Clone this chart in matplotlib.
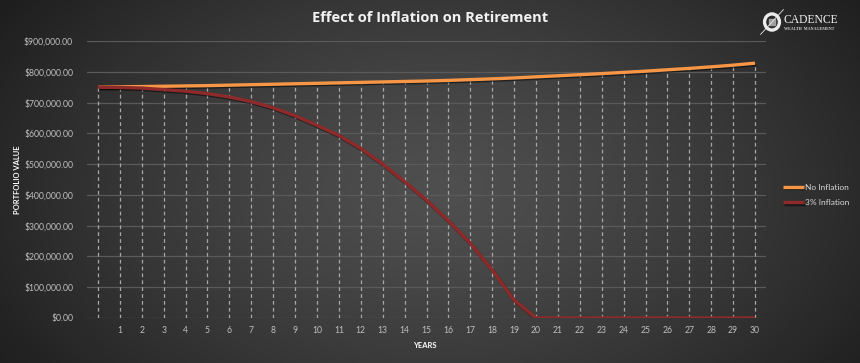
import numpy as np
import matplotlib
matplotlib.use("Agg")
import matplotlib.pyplot as plt
import matplotlib.patheffects as pe
from matplotlib.ticker import FuncFormatter

years = list(range(0, 31))
year_labels = [""] + [str(i) for i in range(1, 31)]
no_inflation = [750, 751, 752, 753, 754, 755, 756.5, 758, 759.5, 761, 762.5,
                764, 765.5, 767, 768.5, 770, 772, 774.5, 777, 780, 783.5,
                787, 790.5, 794, 798, 802, 806.5, 811, 816, 821.5, 828]
no_inflation = [v * 1000 for v in no_inflation]
inflation_3 = [750, 749, 747, 742, 737, 729, 718, 703, 683, 657, 626,
               593, 551, 500, 443, 383, 316, 243, 156, 58, 0,
               0, 0, 0, 0, 0, 0, 0, 0, 0, 0]
inflation_3 = [v * 1000 for v in inflation_3]

title = "Effect of Inflation on Retirement"
ylabel = "PORTFOLIO VALUE"
xlabel = "YEARS"
series_names = ["No Inflation", "3% Inflation"]

FONT = ["Lato", "DejaVu Sans"]
plt.rcParams['font.family'] = FONT

W, H = 860, 363
fig = plt.figure(figsize=(W / 100, H / 100), dpi=100)

# background radial gradient
bg = fig.add_axes([0, 0, 1, 1])
yy, xx = np.mgrid[0:H, 0:W]
cx, cy = 440, 190
r = np.sqrt(((xx - cx) / 520.0) ** 2 + ((yy - cy) / 330.0) ** 2)
light, dark = 0.31, 0.12
val = light - (light - dark) * np.clip(r, 0, 1) ** 1.3
img = np.dstack([val, val, val])
bg.imshow(img, aspect='auto', extent=[0, 1, 0, 1], origin='upper')
bg.set_axis_off()
bg.set_zorder(-10)

ax = fig.add_axes([87 / W, 1 - 318 / H, (766 - 87) / W, (318 - 41) / H])
ax.patch.set_alpha(0)
ax.set_xlim(-0.5, 30.5)
ax.set_ylim(0, 900000)
ax.set_yticks(np.arange(0, 900001, 100000))
ax.yaxis.set_major_formatter(FuncFormatter(lambda v, p: "${:,.2f}".format(v)))
ax.set_xticks(years)
ax.set_xticklabels(year_labels)
ax.tick_params(axis='both', length=0, colors='#bfbfbf', labelsize=6.2)
ax.tick_params(axis='y', pad=10)
ax.tick_params(axis='x', pad=6)
for s in ax.spines.values():
    s.set_visible(False)
ax.grid(axis='y', color='#5a5a5a', linewidth=0.9)
ax.set_axisbelow(True)

# drop lines
ax.vlines(years, 0, no_inflation, colors='#a8a8a8', linewidth=0.9,
          linestyles=(0, (3, 2.5)), zorder=2)

shadow = [pe.SimpleLineShadow(offset=(0.8, -1.0), shadow_color='black', alpha=0.5), pe.Normal()]
l1, = ax.plot(years, no_inflation, color='#f79646', linewidth=2.4, zorder=3,
              solid_capstyle='butt', path_effects=shadow, label=series_names[0])
l2, = ax.plot(years, inflation_3, color='#8e2a2a', linewidth=2.4, zorder=4,
              solid_capstyle='butt', path_effects=shadow, label=series_names[1])

ax.set_ylabel(ylabel, color='white', fontsize=5.5, fontweight='bold')
ax.yaxis.set_label_coords(-65.5 / (766 - 87), 0.5)
ax.set_xlabel(xlabel, color='white', fontsize=5.5, fontweight='bold')
ax.xaxis.set_label_coords(0.497, -0.085)

fig.text(430 / W, 1 - 18 / H, title, color='#f2f2f2', fontsize=10.5, fontweight='bold',
         family=['Open Sans', 'DejaVu Sans'], ha='center', va='center')

# legend
leg = fig.legend(handles=[l1, l2], labels=series_names, loc='center left',
                 bbox_to_anchor=(775 / W, 1 - 195 / H), frameon=False,
                 fontsize=6, labelcolor='#d9d9d9', handlelength=2.6,
                 handletextpad=0.05, labelspacing=1.0)

# logo
logo = fig.add_axes([760 / W, 1 - 35 / H, 24 / W, 26 / H])
logo.set_xlim(-1, 1)
logo.set_ylim(-1, 1)
logo.set_axis_off()
circ = plt.Circle((0, 0), 0.62, fill=False, edgecolor='#ececec', linewidth=2.4)
logo.add_patch(circ)
logo.add_patch(plt.Rectangle((-0.22, -0.22), 0.44, 0.44, color='#a0a0a0'))
logo.plot([-0.95, 0.95], [-0.95, 0.95], color='#e8e8e8', linewidth=0.6)
fig.text(783 / W, 1 - 20 / H, "CADENCE", color='#f0f0f0', fontsize=8.4,
         family=['Liberation Serif', 'DejaVu Serif'], va='center', ha='left')
fig.text(784 / W, 1 - 28.5 / H, "WEALTH  MANAGEMENT", color='#d0d0d0', fontsize=3.0,
         family=['Liberation Serif', 'DejaVu Serif'], va='center', ha='left', fontweight='bold')

fig.savefig("out.png", dpi=100)
